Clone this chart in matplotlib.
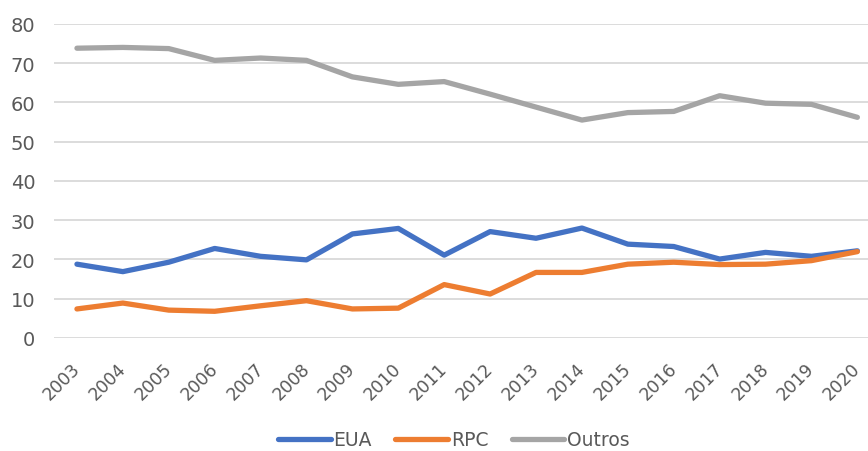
import matplotlib
matplotlib.use("Agg")
import matplotlib.pyplot as plt
import matplotlib.transforms as mtrans
import numpy as np

years = [str(y) for y in range(2003, 2021)]
eua = [18.8, 16.9, 19.3, 22.8, 20.8, 19.9, 26.5, 27.9, 21.1, 27.1,
       25.4, 28.0, 23.9, 23.3, 20.1, 21.8, 20.8, 22.2]
rpc = [7.4, 8.9, 7.1, 6.8, 8.2, 9.5, 7.4, 7.6, 13.6, 11.2,
       16.7, 16.7, 18.8, 19.3, 18.7, 18.8, 19.7, 22.0]
outros = [73.8, 74.0, 73.7, 70.7, 71.3, 70.7, 66.5, 64.6, 65.3, 62.1,
          58.8, 55.5, 57.4, 57.7, 61.7, 59.8, 59.5, 56.2]

series = [("EUA", eua, "#4472C4"), ("RPC", rpc, "#ED7D31"), ("Outros", outros, "#A5A5A5")]

fig = plt.figure(figsize=(8.68, 4.52), dpi=100)
ax = fig.add_axes([0.0622, 0.25, 0.952, 0.695])

x = np.arange(len(years))
for name, vals, col in series:
    ax.plot(x, vals, color=col, lw=3.8, label=name, solid_capstyle="round", zorder=3)

ax.set_xlim(-0.5, len(years) - 0.5)
ax.set_ylim(0, 80)
ax.set_yticks(np.arange(0, 81, 10))
ax.grid(axis="y", color="#D9D9D9", lw=1.3, zorder=0)
for s in ax.spines.values():
    s.set_visible(False)
ax.tick_params(length=0, colors="#595959", labelsize=14)
ax.tick_params(axis="y", pad=13.5)
ax.set_xticks(x)
ax.set_xticklabels(years, rotation=45, ha="right", rotation_mode="anchor", fontsize=12.5)
ax.tick_params(axis="x", pad=15)
# move the slanted year labels slightly left so 2020 stays inside the figure
shift = mtrans.ScaledTranslation(-6 / 100, 0, fig.dpi_scale_trans)
for lbl in ax.get_xticklabels():
    lbl.set_transform(lbl.get_transform() + shift)

fig.legend(loc="center", bbox_to_anchor=(0.523, 0.025), ncol=3, frameon=False,
           fontsize=13.5, handlelength=2.8, handletextpad=0.15, columnspacing=1.25,
           labelcolor="#595959", borderpad=0)

fig.savefig("out.png", dpi=100)
